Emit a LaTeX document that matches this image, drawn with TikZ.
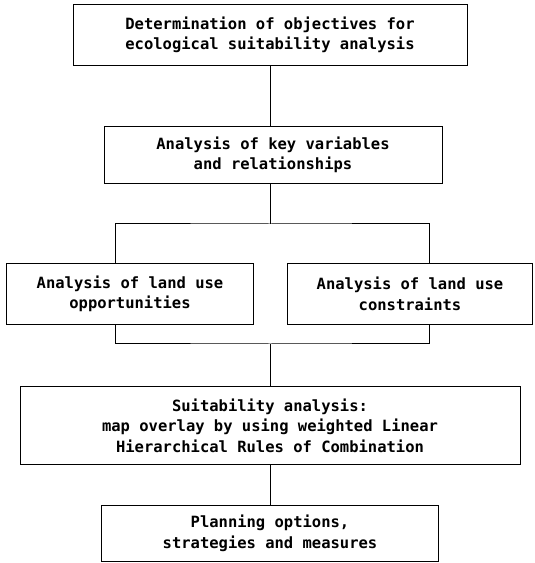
\documentclass[tikz,border=0pt]{standalone}
\usepackage{fontspec}
\setmonofont{DejaVu Sans Mono}
\usetikzlibrary{positioning,calc}

\begin{document}
\begin{tikzpicture}[x=1pt,y=1pt,node distance=60pt]
\tikzstyle{stepbox}=[draw,line width=1pt,inner sep=0pt,align=center,font=\fontsize{15.5}{20.5}\selectfont\ttfamily\bfseries]
\tikzstyle{link}=[line width=1pt]
\useasboundingbox (0,0) rectangle (535,563);
\node[stepbox,minimum width=394pt,minimum height=61pt] (goal) at (270,528) {Determination of objectives for\\ecological suitability analysis};
\node[stepbox,minimum width=338pt,minimum height=57pt,below=60pt of goal,xshift=3pt] (keyvars) {Analysis of key variables\\and relationships};
\coordinate[below=40pt of keyvars.south -| goal.south] (split);
\node[stepbox,minimum width=247pt,minimum height=61pt,below left=39pt and 16pt of split] (chances) {Analysis of land use\\opportunities};
\node[stepbox,minimum width=245pt,minimum height=61pt,below right=39pt and 17pt of split] (limits) {Analysis of land use\\constraints};
\coordinate[below=120pt of split] (merge);
\node[stepbox,minimum width=500pt,minimum height=78pt,below=42pt of merge] (overlay) {Suitability analysis:\\map overlay by using weighted Linear\\Hierarchical Rules of Combination};
\node[stepbox,minimum width=337pt,minimum height=56pt,below=40pt of overlay] (options) {Planning options,\\strategies and measures};
\draw[link] (goal.south) -- (goal.south |- keyvars.north);
\draw[link] (keyvars.south -| split) -- (split);
\draw[link] ([xshift=-15pt]chances.north) |- (split) -| ([xshift=19pt]limits.north);
\draw[link] ([xshift=-15pt]chances.south) |- (merge) -| ([xshift=19pt]limits.south);
\foreach \a/\b in {merge/overlay,overlay/options}{\draw[link] (\a) -- (\b);}
\end{tikzpicture}
\end{document}
